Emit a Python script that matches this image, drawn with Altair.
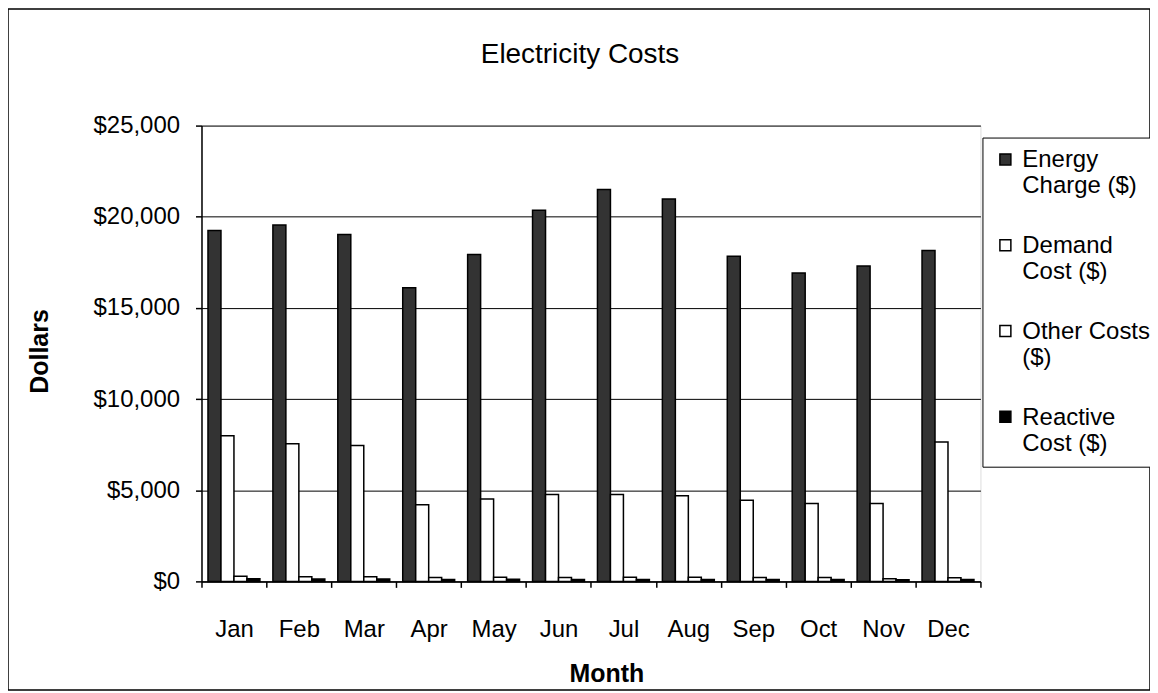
import altair as alt
import pandas as pd

months = ["Jan", "Feb", "Mar", "Apr", "May", "Jun", "Jul", "Aug", "Sep", "Oct", "Nov", "Dec"]
series = ["Energy|Charge ($)", "Demand|Cost   ($)", "Other Costs|($)", "Reactive|Cost   ($)"]
energy = [19250, 19550, 19020, 16100, 17930, 20350, 21500, 20970, 17830, 16920, 17300, 18150]
demand = [7990, 7550, 7460, 4210, 4520, 4760, 4760, 4700, 4450, 4270, 4270, 7640]
other = [280, 260, 250, 220, 230, 220, 230, 230, 220, 210, 150, 200]
reactive = [140, 130, 130, 110, 120, 110, 110, 110, 110, 100, 90, 100]
colors = ["#333333", "#ffffff", "#ffffff", "#000000"]
y_ticks = [0, 5000, 10000, 15000, 20000, 25000]

rows = []
for name, vals in zip(series, [energy, demand, other, reactive]):
    for m, v in zip(months, vals):
        rows.append({"Month": m, "series": name, "value": v})
df = pd.DataFrame(rows)

FONT = "Liberation Sans"

bars = alt.Chart(df).mark_bar(stroke="black", strokeWidth=1.5).encode(
    x=alt.X("Month:N", sort=months,
            scale=alt.Scale(paddingInner=0, paddingOuter=0),
            axis=alt.Axis(title="Month", labelAngle=0, tickBand="extent",
                          tickSize=6, labelPadding=30,
                          labelFontSize=24, labelFont=FONT, labelColor="black",
                          titleFontSize=25, titleFont=FONT, titleFontWeight="bold",
                          titleColor="black", titleX=406, titleY=100,
                          titleBaseline="alphabetic", titleAlign="center",
                          domainColor="black", domainWidth=1.5,
                          tickColor="black", tickWidth=1.5, grid=False)),
    xOffset=alt.XOffset("series:N", sort=series,
                        scale=alt.Scale(domain=series, paddingInner=0, paddingOuter=0.5)),
    y=alt.Y("value:Q", scale=alt.Scale(domain=[0, 25000]),
            axis=alt.Axis(title="Dollars", values=y_ticks, format="$,.0f",
                          tickSize=6, labelPadding=16,
                          labelFontSize=24, labelFont=FONT, labelColor="black",
                          titleFontSize=25, titleFont=FONT, titleFontWeight="bold",
                          titleColor="black", titleAngle=270, titleX=-154, titleY=226,
                          titleBaseline="alphabetic", titleAlign="center",
                          domainColor="black", domainWidth=1.5,
                          tickColor="black", tickWidth=1.5,
                          grid=True, gridColor="black", gridWidth=1, gridOpacity=1)),
    fill=alt.Fill("series:N", sort=series,
                  scale=alt.Scale(domain=series, range=colors),
                  legend=alt.Legend(title=None, orient="none", legendX=783, legendY=12,
                                    strokeColor="black", padding=11, fillColor="white",
                                    labelExpr="split(datum.label, '|')",
                                    labelFontSize=24, labelFont=FONT, labelColor="black",
                                    labelLimit=400, labelOffset=5, labelBaseline="middle",
                                    symbolType="M-1,-1.2H1V0.8H-1Z",
                                    symbolSize=121, symbolStrokeColor="black",
                                    symbolStrokeWidth=1.5, rowPadding=36)),
)

frame = alt.Chart(alt.Data(values=[{"a": 1}])).mark_rect(
    fill="transparent", stroke="black", strokeWidth=1.5, clip=False
).encode(
    x=alt.value(-194), x2=alt.value(951), y=alt.value(-117), y2=alt.value(566)
)

chart = alt.layer(bars, frame).properties(
    width=781, height=457,
    autosize=alt.AutoSizeParams(type="none"),
    padding={"left": 194, "top": 117, "right": 170, "bottom": 109},
    title=alt.TitleParams("Electricity Costs", fontSize=28, font=FONT,
                          fontWeight="normal", color="black", anchor="middle",
                          baseline="alphabetic", offset=0, dy=83, dx=-11),
).configure_view(stroke="black", strokeWidth=1.5).configure(background="white")

chart.save("out.html", embed_options={"renderer": "svg", "actions": False})
